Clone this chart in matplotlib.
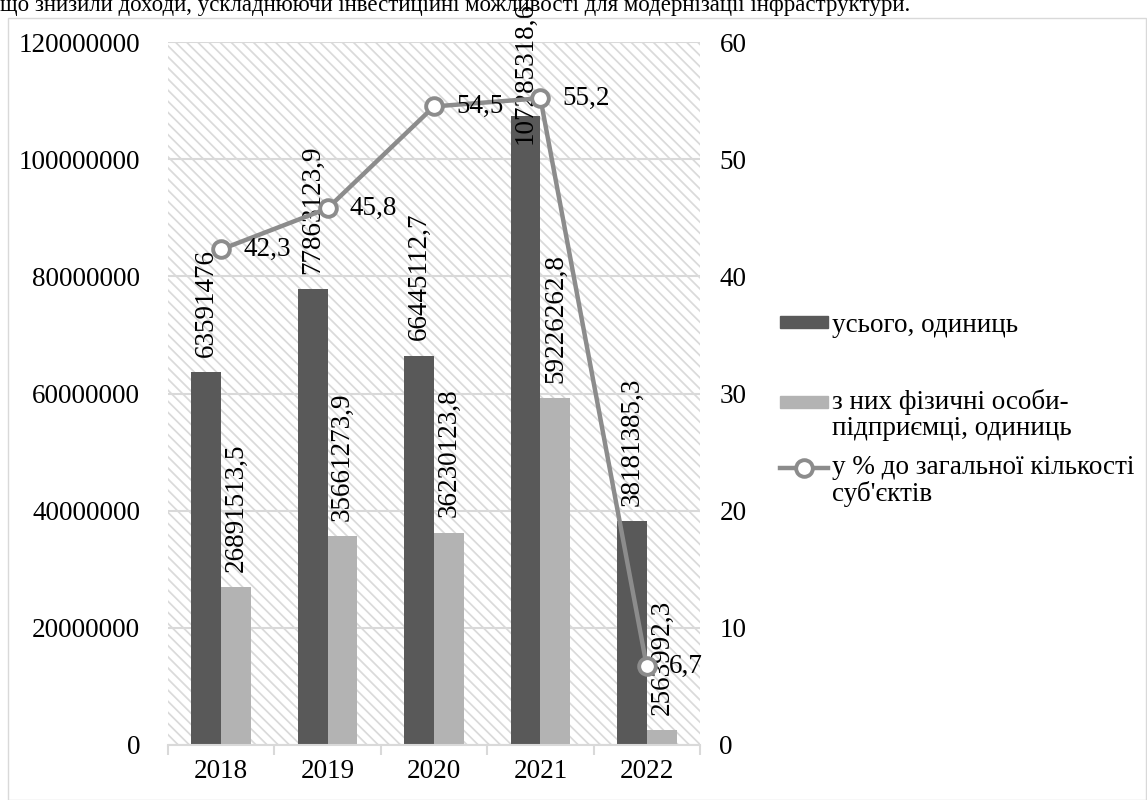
import matplotlib
matplotlib.use('Agg')
import matplotlib.pyplot as plt
from matplotlib.patches import Rectangle
from matplotlib.lines import Line2D
from matplotlib.transforms import blended_transform_factory
import numpy as np

plt.rcParams['font.family'] = ['Liberation Serif', 'DejaVu Serif']
plt.rcParams['hatch.color'] = '#dadada'
plt.rcParams['hatch.linewidth'] = 1.25

years = ['2018', '2019', '2020', '2021', '2022']
total = [63591476, 77863123.9, 66445112.7, 107285318.6, 38181385.3]
fop = [26891513.5, 35661273.9, 36230123.8, 59226262.8, 2563992.3]
pct = [42.3, 45.8, 54.5, 55.2, 6.7]
total_lbl = ['63591476', '77863123,9', '66445112,7', '107285318,6', '38181385,3']
fop_lbl = ['26891513,5', '35661273,9', '36230123,8', '59226262,8', '2563992,3']
pct_lbl = ['42,3', '45,8', '54,5', '55,2', '6,7']
legend_lbl = ['усього, одиниць', 'з них фізичні особи-\nпідприємці, одиниць',
              "у % до загальної кількості\nсуб'єктів"]

dark = '#595959'
light = '#b3b3b3'
linec = '#8c8c8c'
fs = 19.5
W, H = 1147, 800

fig = plt.figure(figsize=(11.47, 8), dpi=100)
# outer frame of the chart
fig.patches.append(Rectangle((8/W, 0), 1 - 8/W - 0.001, 1 - 18/H,
                             transform=fig.transFigure, fill=False,
                             edgecolor='#d9d9d9', linewidth=1))
fig.text(0.0, 1 - 11/H, 'що знизили доходи, ускладнюючи інвестиційні можливості для модернізації інфраструктури.',
         fontsize=16.5, ha='left', va='baseline')

ax = fig.add_axes([168/W, 55/H, 532/W, 703/H])
ax.add_patch(Rectangle((0, 0), 1, 1, transform=ax.transAxes, facecolor='white',
                       edgecolor='#dadada', linewidth=0, hatch='\\\\\\', zorder=0))

x = np.arange(len(years))
w = 0.28
ax.bar(x - w/2, total, w, color=dark, zorder=2)
ax.bar(x + w/2, fop, w, color=light, zorder=2)
ax.set_ylim(0, 120000000)
ax.set_xlim(-0.5, 4.5)
ax.set_yticks(np.arange(0, 120000001, 20000000))
ax.set_yticklabels([str(v) for v in range(0, 120000001, 20000000)])
ax.yaxis.grid(True, color='#d9d9d9', linewidth=1.5, zorder=1)
ax.set_axisbelow(True)
for s in ['top', 'right', 'left']:
    ax.spines[s].set_visible(False)
ax.spines['bottom'].set_color('#d9d9d9')
ax.spines['bottom'].set_linewidth(1.5)
ax.tick_params(axis='y', length=0, labelsize=fs, pad=20)
ax.set_xticks(x)
ax.set_xticklabels(years)
ax.tick_params(axis='x', length=0, labelsize=fs, pad=10)
ax.set_xticks(np.arange(-0.5, 5, 1), minor=True)
ax.tick_params(axis='x', which='minor', length=7, color='#d9d9d9', width=1.5)

# bar labels; the tallest one does not fit and is pushed down to the chart top
top_tr = blended_transform_factory(ax.transData, fig.transFigure)
for xi, v, t in zip(x - w/2, total, total_lbl):
    if v > 100000000:
        ax.text(xi, 1 - 2/H, t, rotation=90, ha='center', va='top', fontsize=fs,
                transform=top_tr, zorder=5)
    else:
        ax.annotate(t, (xi, v), xytext=(0, 11), textcoords='offset points', rotation=90,
                    ha='center', va='bottom', fontsize=fs, zorder=5)
for xi, v, t in zip(x + w/2, fop, fop_lbl):
    ax.annotate(t, (xi, v), xytext=(0, 11), textcoords='offset points', rotation=90,
                ha='center', va='bottom', fontsize=fs, zorder=5)

ax2 = ax.twinx()
ax2.set_ylim(0, 60)
ax2.set_yticks(np.arange(0, 61, 10))
for s in ['top', 'right', 'left', 'bottom']:
    ax2.spines[s].set_visible(False)
ax2.tick_params(axis='y', length=0, labelsize=fs, pad=14)
ax2.plot(x, pct, color=linec, linewidth=3.2, marker='o', markersize=12,
         markerfacecolor='white', markeredgecolor=linec, markeredgewidth=2.8, zorder=6)
for xi, v, t in zip(x, pct, pct_lbl):
    ax2.text(xi + 0.21, v, t, ha='left', va='center', fontsize=fs, zorder=7)

# legend drawn by hand to get the uneven spacing of the original
lx0, lx1, tx = 780, 828, 832
ys = [322, 402, 468]
fig.patches.append(Rectangle((lx0/W, 1 - (ys[0] + 6)/H), (lx1 - lx0)/W, 12/H,
                             transform=fig.transFigure, color=dark))
fig.patches.append(Rectangle((lx0/W, 1 - (ys[1] + 6)/H), (lx1 - lx0)/W, 12/H,
                             transform=fig.transFigure, color=light))
fig.lines.append(Line2D([lx0/W, lx1/W], [1 - ys[2]/H] * 2, transform=fig.transFigure,
                        color=linec, linewidth=3.2))
fig.lines.append(Line2D([(lx0 + lx1)/2/W], [1 - ys[2]/H], transform=fig.transFigure,
                        marker='o', markersize=12, markerfacecolor='white',
                        markeredgecolor=linec, markeredgewidth=2.8))
for y, t in zip(ys, legend_lbl):
    if '\n' in t:
        fig.text(tx/W, 1 - (y - 13)/H, t, ha='left', va='top', fontsize=fs, linespacing=1.05)
    else:
        fig.text(tx/W, 1 - y/H, t, ha='left', va='center_baseline', fontsize=fs)

fig.savefig('out.png', dpi=100)
